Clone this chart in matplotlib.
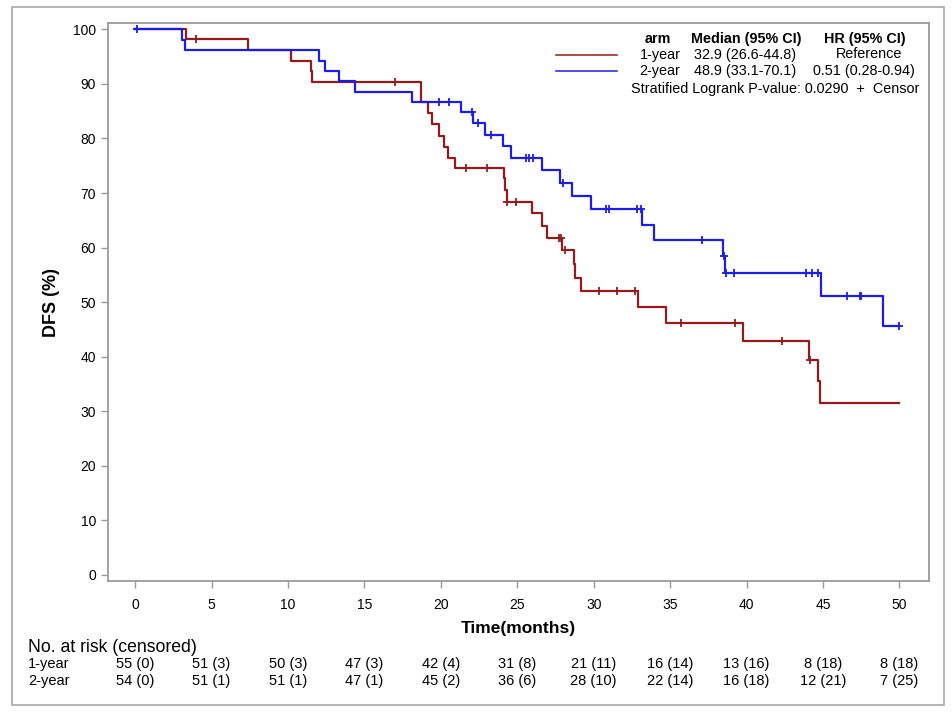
import numpy as np
import matplotlib
matplotlib.use("Agg")
import matplotlib.pyplot as plt
from matplotlib.lines import Line2D
from matplotlib.patches import Rectangle
from matplotlib import transforms

plt.rcParams['font.family'] = ['Liberation Sans', 'DejaVu Sans']

W, H = 953, 715

# 1-year arm: step times (months) and DFS (%)
time_1 = [0, 3.3, 7.4, 10.2, 11.5, 11.6, 18.7, 19.15, 19.45, 19.9, 20.2, 20.45,
          20.9, 24.1, 24.2, 24.3, 25.95, 26.65, 26.95, 27.9, 28.7, 28.8, 29.15,
          32.9, 34.75, 39.75, 44.1, 44.67, 44.8]
dfs_1 = [100, 98.2, 96.2, 94.2, 92.3, 90.4, 86.6, 84.6, 82.6, 80.5, 78.5, 76.5,
         74.5, 72.8, 70.6, 68.4, 66.3, 64.0, 61.7, 59.6, 57.0, 54.5, 52.0,
         49.2, 46.2, 42.9, 39.4, 35.5, 31.6]
end_1 = 50.0
cens_1 = [4.0, 17.0, 21.65, 23.0, 24.35, 24.9, 27.75, 27.85, 28.15, 30.35,
          31.5, 32.7, 35.7, 39.25, 42.35, 44.15]

# 2-year arm
time_2 = [0, 3.05, 3.25, 12.0, 12.45, 13.35, 14.4, 18.1, 21.3, 22.1, 22.9,
          24.05, 24.6, 26.65, 27.8, 28.55, 29.85, 33.15, 33.95, 38.45, 38.6,
          44.9, 48.95]
dfs_2 = [100, 98.1, 96.2, 94.2, 92.3, 90.5, 88.6, 86.7, 84.8, 82.8, 80.6,
         78.6, 76.5, 74.2, 71.8, 69.4, 67.1, 64.2, 61.4, 58.5, 55.4,
         51.1, 45.6]
end_2 = 49.95
cens_2 = [0.1, 19.85, 20.55, 22.05, 22.45, 23.25, 25.6, 25.75, 26.0, 28.0,
          30.8, 31.0, 32.85, 33.1, 37.1, 38.52, 38.65, 39.2, 43.9, 44.3, 44.7,
          46.55, 47.4, 47.5, 49.95]

# number at risk table
risk_times = [0, 5, 10, 15, 20, 25, 30, 35, 40, 45, 50]
at_risk_1 = [55, 51, 50, 47, 42, 31, 21, 16, 13, 8, 8]
censored_1 = [0, 3, 3, 3, 4, 8, 11, 14, 16, 18, 18]
at_risk_2 = [54, 51, 51, 47, 45, 36, 28, 22, 16, 12, 7]
censored_2 = [0, 1, 1, 1, 2, 6, 10, 14, 18, 21, 25]

arms = ["1-year", "2-year"]
medians = ["32.9 (26.6-44.8)", "48.9 (33.1-70.1)"]
hrs = ["Reference", "0.51 (0.28-0.94)"]
pvalue = "0.0290"

RED = '#941b1b'
BLUE = '#1c1ce6'
GRAY = '#9a9a9a'


def fx(x):
    return x / W


def fy(y):
    return 1 - y / H


def censor_levels(times, dfs, cens):
    idx = np.searchsorted(times, cens, side='right') - 1
    return np.array(dfs)[idx]


fig = plt.figure(figsize=(W / 100, H / 100), dpi=100)
ax = fig.add_axes([fx(108), fy(581), fx(929) - fx(108), fy(23.3) - fy(581)])

for times, dfs, end, cens, col in [(time_1, dfs_1, end_1, cens_1, RED),
                                   (time_2, dfs_2, end_2, cens_2, BLUE)]:
    ax.step(times + [end], dfs + [dfs[-1]], where='post', color=col, lw=1.6)
    ax.plot(cens, censor_levels(times, dfs, cens), ls='none', marker='+',
            ms=6, mew=1.3, color=col)

ax.set_xlim(-1.78, 51.94)
ax.set_ylim(-1.1, 101.1)
ax.set_xticks(risk_times)
ax.set_yticks(range(0, 101, 10))
for s in ax.spines.values():
    s.set_color(GRAY)
    s.set_linewidth(1.3)
ax.tick_params(colors=GRAY, labelcolor='black', labelsize=10, length=5,
               width=1)
ax.tick_params(axis='x', pad=7)
ax.set_ylabel("DFS (%)", fontsize=13, fontweight='bold')
ax.yaxis.set_label_coords((60 - 108) / 821, 0.5)
fig.text(fx(518), fy(628), "Time(months)", fontsize=12.5, fontweight='bold',
         ha='center', va='center')

# legend block
fs = 10.4
fig.text(fx(658), fy(39), "arm", fontsize=fs, fontweight='bold', ha='center', va='center')
fig.text(fx(746), fy(39), "Median (95% CI)", fontsize=fs, fontweight='bold', ha='center', va='center')
fig.text(fx(865), fy(39), "HR (95% CI)", fontsize=fs, fontweight='bold', ha='center', va='center')
for i, (arm, med, hr, col) in enumerate(zip(arms, medians, hrs, [RED, BLUE])):
    yy = 54.5 + i * 16.5
    fig.add_artist(Line2D([fx(556), fx(617)], [fy(yy), fy(yy)], color=col,
                          lw=1.1, transform=fig.transFigure))
    fig.text(fx(660), fy(yy), arm, fontsize=fs, ha='center', va='center')
    fig.text(fx(745), fy(yy), med, fontsize=fs, ha='center', va='center')
    fig.text(fx(869 if i == 0 else 864), fy(yy), hr, fontsize=fs,
             ha='center', va='center')
fig.text(fx(919), fy(88.5), "Stratified Logrank P-value: " + pvalue + "  +  Censor",
         fontsize=fs, ha='right', va='center')

# at-risk table
tr = transforms.blended_transform_factory(ax.transData, fig.transFigure)
fig.text(fx(28), fy(648), "No. at risk (censored)", fontsize=12.7, ha='left', va='center')
for arm, n, c, yy in [(arms[0], at_risk_1, censored_1, 664),
                      (arms[1], at_risk_2, censored_2, 680.5)]:
    fig.text(fx(28), fy(yy), arm, fontsize=10.5, ha='left', va='center')
    for t, a, k in zip(risk_times, n, c):
        ax.text(t, fy(yy), f"{a} ({k})", transform=tr, fontsize=10.5,
                ha='center', va='center')

# outer border
fig.add_artist(Rectangle((fx(11.7), fy(705)), fx(944) - fx(11.7), fy(7.3) - fy(705),
                         fill=False, edgecolor='#a8a8a8', lw=1.2,
                         transform=fig.transFigure))

fig.savefig("out.png", dpi=100)
